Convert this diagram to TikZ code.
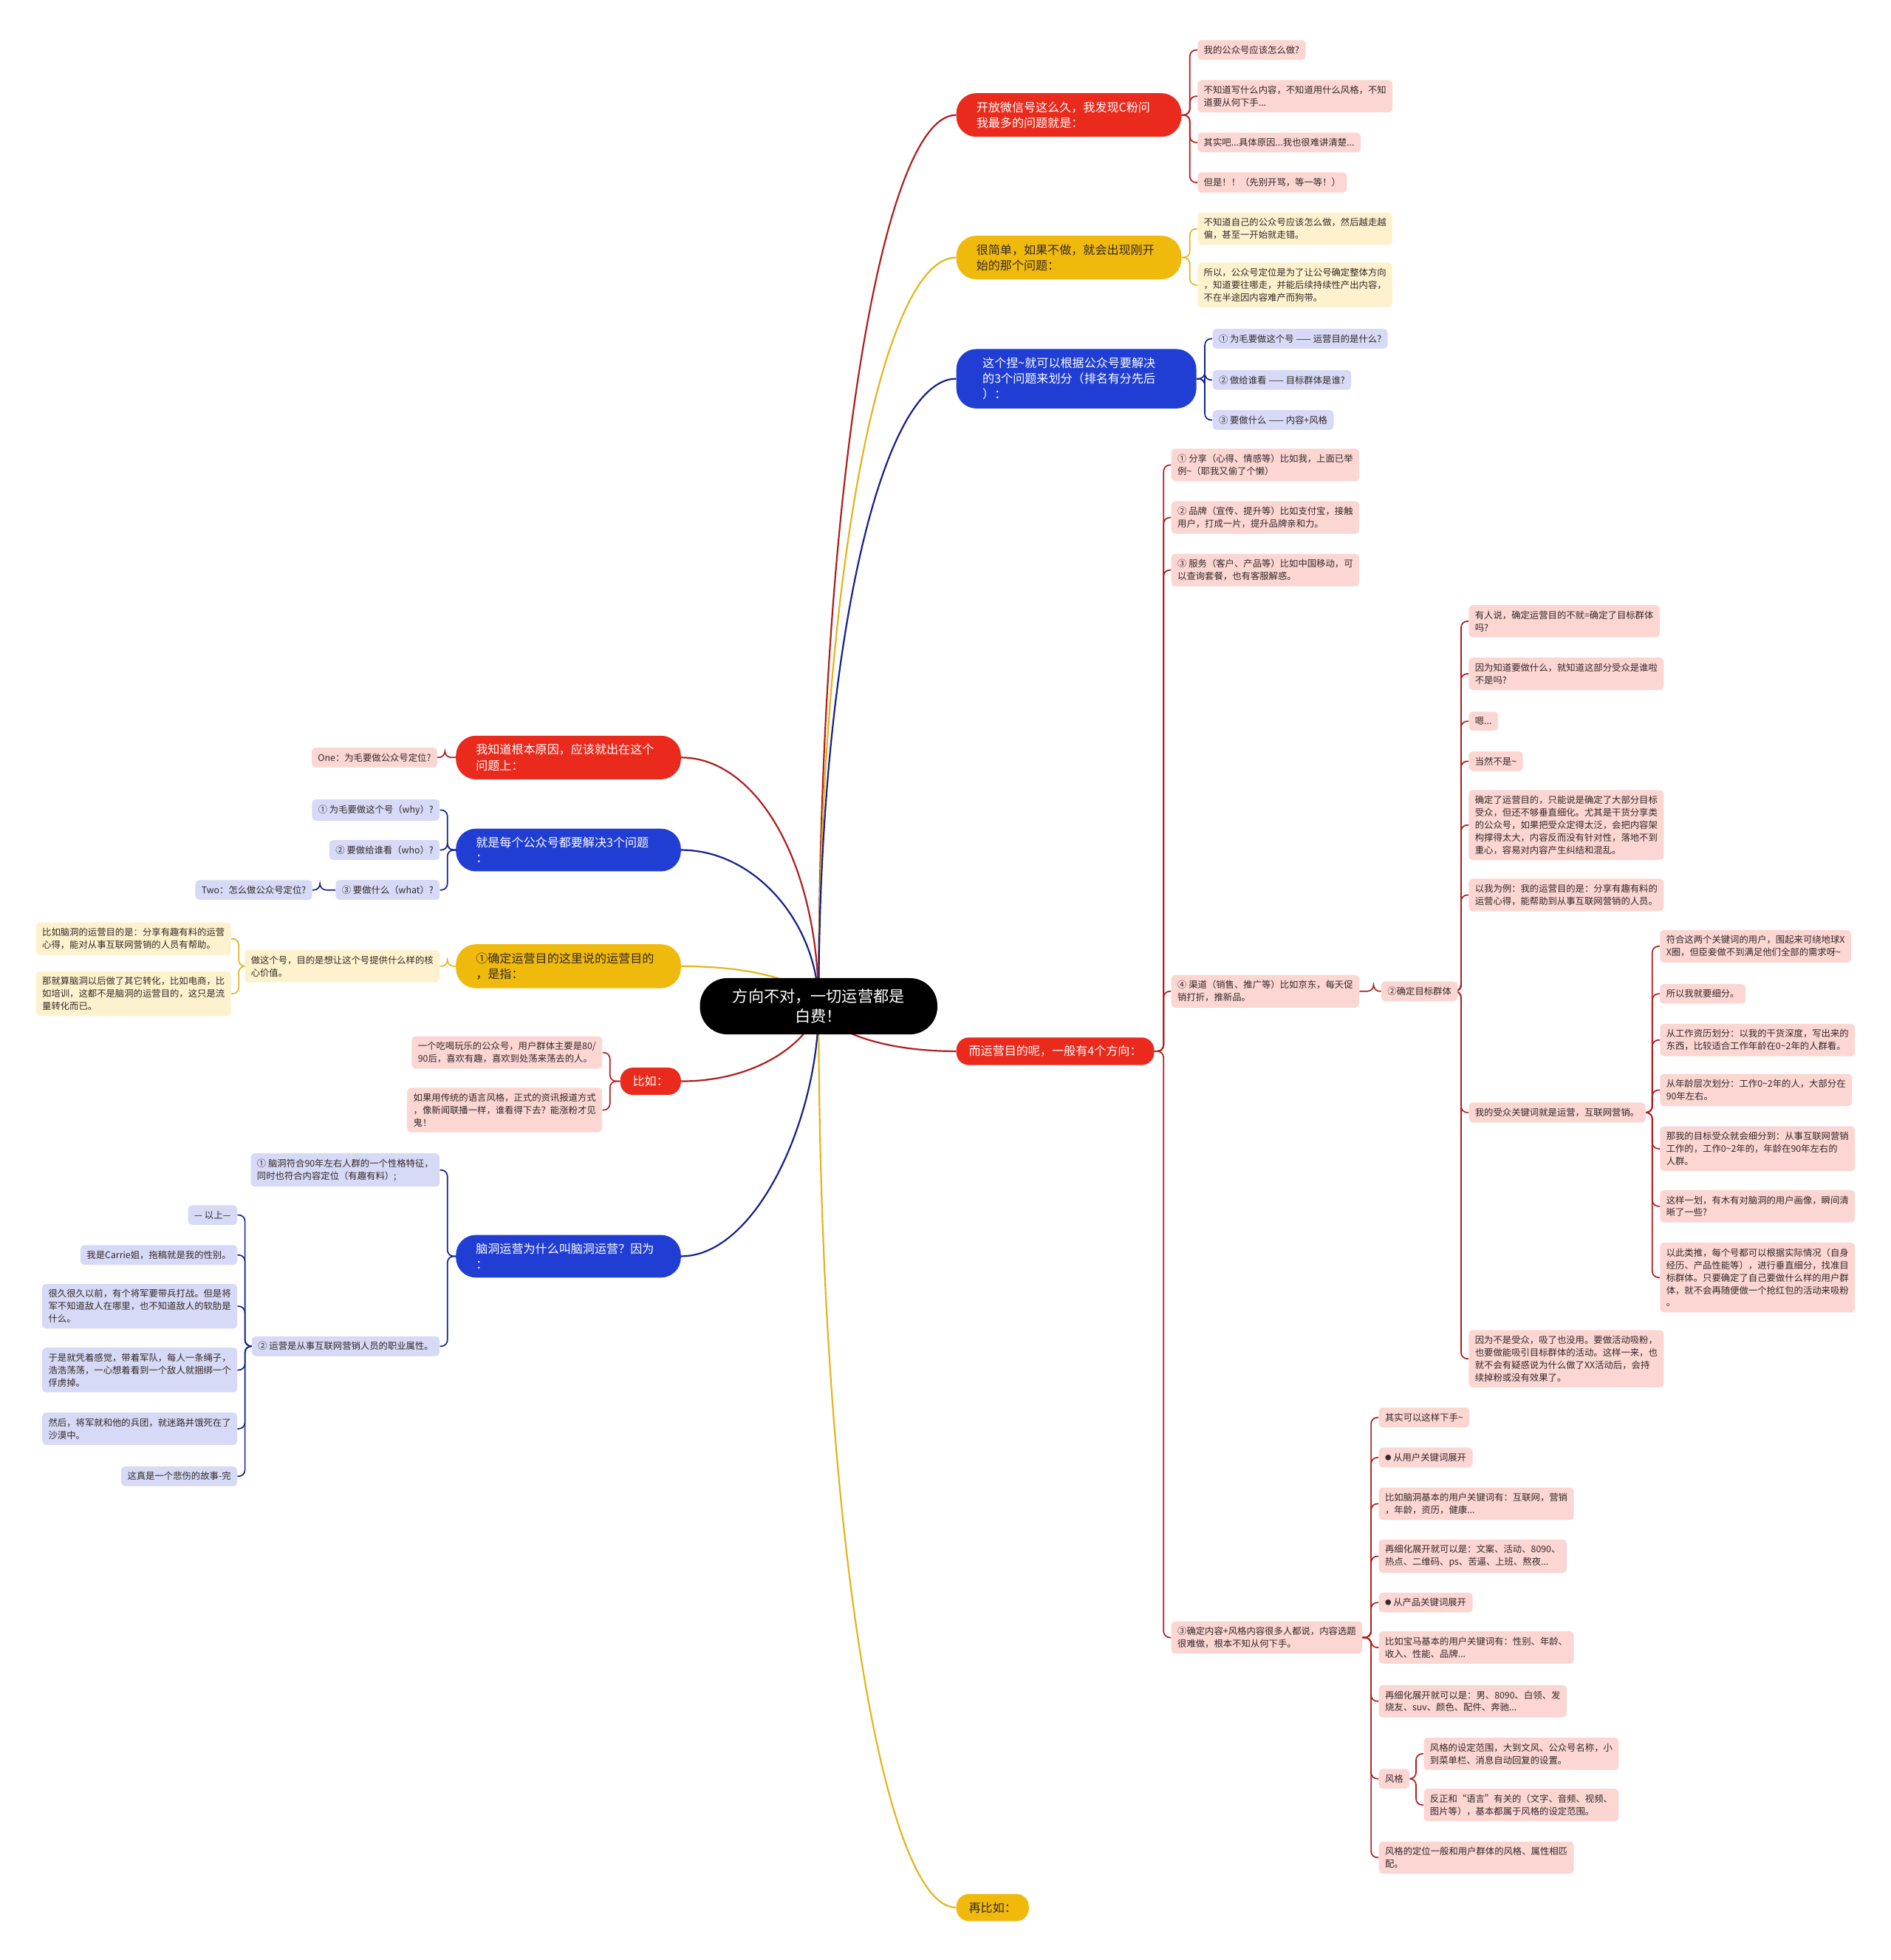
\documentclass[tikz,border=0pt]{standalone}
\usepackage{fontspec}
\setmainfont{Noto Sans CJK SC}
\usetikzlibrary{backgrounds}
\definecolor{cred}{RGB}{233,42,28}
\definecolor{cyel}{RGB}{240,186,12}
\definecolor{cblu}{RGB}{32,62,212}
\definecolor{lred}{RGB}{251,214,211}
\definecolor{lyel}{RGB}{254,242,206}
\definecolor{lblu}{RGB}{214,218,246}
\definecolor{ered}{RGB}{176,30,30}
\definecolor{eyel}{RGB}{228,180,30}
\definecolor{eblu}{RGB}{20,34,140}
\definecolor{txt}{RGB}{51,40,40}
\newcommand\tld{\char"7E\relax}
\newcommand\bul{\raisebox{0.12em}{\fontsize{5}{5}\selectfont ●}}
\newcommand\linkR[3]{\draw[lk,#1] (#2.east) -| ([xshift=-6pt]#3.west) -- (#3.west);}
\newcommand\linkL[3]{\draw[lk,#1] (#2.west) -| ([xshift=6pt]#3.east) -- (#3.east);}
\begin{document}
\begin{tikzpicture}[x=1pt,y=-1pt,
  leaf/.style={font=\fontsize{7.3}{10}\selectfont, inner xsep=5pt, inner ysep=4.5pt, rounded corners=3pt, align=left, text=txt},
  lr/.style={leaf, fill=lred}, ly/.style={leaf, fill=lyel}, lb/.style={leaf, fill=lblu},
  mainb/.style={font=\fontsize{9.5}{12.5}\selectfont, inner xsep=16pt, inner ysep=6.8pt, rounded corners=16pt, align=left, text width=148pt},
  smallb/.style={font=\fontsize{9.5}{12.5}\selectfont, inner xsep=10pt, inner ysep=6.5pt, rounded corners=10pt},
  lk/.style={line width=1pt, rounded corners=5pt},
  mk/.style={line width=1.3pt}]
\useasboundingbox (0,0) rectangle (1513,1568);

% root
\node[fill=black, text=white, rounded corners=22pt, minimum width=190pt, minimum height=45pt, align=center, font=\fontsize{12.5}{16}\selectfont] (root) at (655,805) {方向不对，一切运营都是\\白费！};

% ---------- right branches ----------
\node[mainb, fill=cred, text=white, anchor=west] (R1) at (765,92) {开放微信号这么久，我发现C粉问\\我最多的问题就是：};
\node[lr, anchor=west] (r1a) at (958,40) {我的公众号应该怎么做?};
\node[lr, anchor=west] (r1b) at (958,77) {不知道写什么内容，不知道用什么风格，不知\\道要从何下手...};
\node[lr, anchor=west] (r1c) at (958,114) {其实吧...具体原因...我也很难讲清楚...};
\node[lr, anchor=west] (r1d) at (958,146) {但是！！（先别开骂，等一等！）};

\node[mainb, fill=cyel, text=txt, anchor=west] (R2) at (765,206) {很简单，如果不做，就会出现刚开\\始的那个问题：};
\node[ly, anchor=west] (r2a) at (958,183) {不知道自己的公众号应该怎么做，然后越走越\\偏，甚至一开始就走错。};
\node[ly, anchor=west] (r2b) at (958,228) {所以，公众号定位是为了让公号确定整体方向\\，知道要往哪走，并能后续持续性产出内容，\\不在半途因内容难产而狗带。};

\node[mainb, fill=cblu, text=white, anchor=west, text width=150pt, inner xsep=21pt] (R3) at (765,303) {这个捏\tld{}就可以根据公众号要解决\\的3个问题来划分（排名有分先后\\）：};
\node[lb, anchor=west] (r3a) at (970,271) {①\ 为毛要做这个号 —— 运营目的是什么?};
\node[lb, anchor=west] (r3b) at (970,304) {②\ 做给谁看 —— 目标群体是谁?};
\node[lb, anchor=west] (r3c) at (970,336) {③\ 要做什么 —— 内容+风格};

\node[smallb, fill=cred, text=white, anchor=west] (R4) at (765,841) {而运营目的呢，一般有4个方向：};
\node[lr, anchor=west] (r4a) at (937,372) {①\ 分享（心得、情感等）比如我，上面已举\\例\tld{}（耶我又偷了个懒）};
\node[lr, anchor=west] (r4b) at (937,414) {②\ 品牌（宣传、提升等）比如支付宝，接触\\用户，打成一片，提升品牌亲和力。};
\node[lr, anchor=west] (r4c) at (937,456) {③\ 服务（客户、产品等）比如中国移动，可\\以查询套餐，也有客服解惑。};
\node[lr, anchor=west] (r4d) at (937,793) {④\ 渠道（销售、推广等）比如京东，每天促\\销打折，推新品。};
\node[lr, anchor=west] (r4e) at (937,1310) {③确定内容+风格内容很多人都说，内容选题\\很难做，根本不知从何下手。};

\node[lr, anchor=west] (t2) at (1105,793) {②确定目标群体};
\node[lr, anchor=west] (t2a) at (1175,497) {有人说，确定运营目的不就=确定了目标群体\\吗?};
\node[lr, anchor=west] (t2b) at (1175,539) {因为知道要做什么，就知道这部分受众是谁啦\\不是吗?};
\node[lr, anchor=west] (t2c) at (1175,577) {嗯...};
\node[lr, anchor=west] (t2d) at (1175,609) {当然不是\tld};
\node[lr, anchor=west] (t2e) at (1175,660) {确定了运营目的，只能说是确定了大部分目标\\受众，但还不够垂直细化。尤其是干货分享类\\的公众号，如果把受众定得太泛，会把内容架\\构撑得太大，内容反而没有针对性，落地不到\\重心，容易对内容产生纠结和混乱。};
\node[lr, anchor=west] (t2f) at (1175,716) {以我为例：我的运营目的是：分享有趣有料的\\运营心得，能帮助到从事互联网营销的人员。};
\node[lr, anchor=west] (t2g) at (1175,890) {我的受众关键词就是运营，互联网营销。};
\node[lr, anchor=west] (t2h) at (1175,1087) {因为不是受众，吸了也没用。要做活动吸粉，\\也要做能吸引目标群体的活动。这样一来，也\\就不会有疑惑说为什么做了XX活动后，会持\\续掉粉或没有效果了。};

\node[lr, anchor=west] (u1) at (1328,757) {符合这两个关键词的用户，围起来可绕地球X\\X圈，但臣妾做不到满足他们全部的需求呀\tld};
\node[lr, anchor=west] (u2) at (1328,795) {所以我就要细分。};
\node[lr, anchor=west] (u3) at (1328,832) {从工作资历划分：以我的干货深度，写出来的\\东西，比较适合工作年龄在0\tld{}2年的人群看。};
\node[lr, anchor=west] (u4) at (1328,872) {从年龄层次划分：工作0\tld{}2年的人，大部分在\\90年左右。};
\node[lr, anchor=west] (u5) at (1328,919) {那我的目标受众就会细分到：从事互联网营销\\工作的，工作0\tld{}2年的，年龄在90年左右的\\人群。};
\node[lr, anchor=west] (u6) at (1328,965) {这样一划，有木有对脑洞的用户画像，瞬间清\\晰了一些?};
\node[lr, anchor=west] (u7) at (1328,1022) {以此类推，每个号都可以根据实际情况（自身\\经历、产品性能等），进行垂直细分，找准目\\标群体。只要确定了自己要做什么样的用户群\\体，就不会再随便做一个抢红包的活动来吸粉\\。};

\node[lr, anchor=west] (v1) at (1103,1134) {其实可以这样下手\tld};
\node[lr, anchor=west] (v2) at (1103,1166) {\bul\ 从用户关键词展开};
\node[lr, anchor=west] (v3) at (1103,1203) {比如脑洞基本的用户关键词有：互联网，营销\\，年龄，资历，健康...};
\node[lr, anchor=west] (v4) at (1103,1245) {再细化展开就可以是：文案、活动、8090、\\热点、二维码、ps、苦逼、上班、熬夜...};
\node[lr, anchor=west] (v5) at (1103,1282) {\bul\ 从产品关键词展开};
\node[lr, anchor=west] (v6) at (1103,1318) {比如宝马基本的用户关键词有：性别、年龄、\\收入、性能、品牌...};
\node[lr, anchor=west] (v7) at (1103,1361) {再细化展开就可以是：男、8090、白领、发\\烧友、suv、颜色、配件、奔驰...};
\node[lr, anchor=west] (v8) at (1103,1423) {风格};
\node[lr, anchor=west] (v9) at (1103,1486) {风格的定位一般和用户群体的风格、属性相匹\\配。};
\node[lr, anchor=west] (w1) at (1139,1403) {风格的设定范围，大到文风、公众号名称，小\\到菜单栏、消息自动回复的设置。};
\node[lr, anchor=west] (w2) at (1139,1444) {反正和“语言”有关的（文字、音频、视频、\\图片等），基本都属于风格的设定范围。};

\node[smallb, fill=cyel, text=txt, anchor=west] (R5) at (765,1526) {再比如：};

% ---------- left branches ----------
\node[mainb, fill=cred, text=white, anchor=east] (L1) at (545,606) {我知道根本原因，应该就出在这个\\问题上：};
\node[lr, anchor=east] (l1a) at (350,606) {One：为毛要做公众号定位?};

\node[mainb, fill=cblu, text=white, anchor=east] (L2) at (545,680) {就是每个公众号都要解决3个问题\\：};
\node[lb, anchor=east] (l2a) at (352,648) {①\ 为毛要做这个号（why）?};
\node[lb, anchor=east] (l2b) at (352,680) {②\ 要做给谁看（who）?};
\node[lb, anchor=east] (l2c) at (352,712) {③\ 要做什么（what）?};
\node[lb, anchor=east] (l2d) at (250,712) {Two：怎么做公众号定位?};

\node[mainb, fill=cyel, text=txt, anchor=east] (L3) at (545,773) {①确定运营目的这里说的运营目的\\，是指：};
\node[ly, anchor=east] (l3a) at (352,773) {做这个号，目的是想让这个号提供什么样的核\\心价值。};
\node[ly, anchor=east] (l3b) at (185,751) {比如脑洞的运营目的是：分享有趣有料的运营\\心得，能对从事互联网营销的人员有帮助。};
\node[ly, anchor=east] (l3c) at (185,795) {那就算脑洞以后做了其它转化，比如电商，比\\如培训，这都不是脑洞的运营目的，这只是流\\量转化而已。};

\node[smallb, fill=cred, text=white, anchor=east] (L4) at (545,865) {比如：};
\node[lr, anchor=east] (l4a) at (482,842) {一个吃喝玩乐的公众号，用户群体主要是80/\\90后，喜欢有趣，喜欢到处荡来荡去的人。};
\node[lr, anchor=east] (l4b) at (482,888) {如果用传统的语言风格，正式的资讯报道方式\\，像新闻联播一样，谁看得下去？能涨粉才见\\鬼！};

\node[mainb, fill=cblu, text=white, anchor=east] (L5) at (545,1005) {脑洞运营为什么叫脑洞运营？因为\\：};
\node[lb, anchor=east] (l5a) at (352,936) {①\ 脑洞符合90年左右人群的一个性格特征，\\同时也符合内容定位（有趣有料）;};
\node[lb, anchor=east] (l5b) at (352,1077) {②\ 运营是从事互联网营销人员的职业属性。};
\node[lb, anchor=east] (m1) at (190,972) {— 以上—};
\node[lb, anchor=east] (m2) at (190,1004) {我是Carrie姐，拖稿就是我的性别。};
\node[lb, anchor=east] (m3) at (190,1045) {很久很久以前，有个将军要带兵打战。但是将\\军不知道敌人在哪里，也不知道敌人的软肋是\\什么。};
\node[lb, anchor=east] (m4) at (190,1096) {于是就凭着感觉，带着军队，每人一条绳子，\\浩浩荡荡，一心想着看到一个敌人就捆绑一个\\俘虏掉。};
\node[lb, anchor=east] (m5) at (190,1143) {然后，将军就和他的兵团，就迷路并饿死在了\\沙漠中。};
\node[lb, anchor=east] (m6) at (190,1181) {这真是一个悲伤的故事-完};

% ---------- connectors ----------
\begin{scope}[on background layer]
\draw[mk, ered] (root.center) .. controls (655,400) and (705,92) .. (R1.west);
\draw[mk, eyel] (root.center) .. controls (655,465) and (705,206) .. (R2.west);
\draw[mk, eblu] (root.center) .. controls (655,520) and (705,303) .. (R3.west);
\draw[mk, ered] (root.center) .. controls (660,822) and (700,841) .. (R4.west);
\draw[mk, eyel] (root.center) .. controls (655,1210) and (705,1526) .. (R5.west);
\draw[mk, ered] (root.center) .. controls (655,690) and (605,606) .. (L1.east);
\draw[mk, eblu] (root.center) .. controls (655,740) and (605,680) .. (L2.east);
\draw[mk, eyel] (root.center) .. controls (650,788) and (610,773) .. (L3.east);
\draw[mk, ered] (root.center) .. controls (650,830) and (610,865) .. (L4.east);
\draw[mk, eblu] (root.center) .. controls (655,895) and (605,1005) .. (L5.east);

\foreach \c in {r1a,r1b,r1c,r1d} {\linkR{ered}{R1}{\c}}
\foreach \c in {r2a,r2b} {\linkR{eyel}{R2}{\c}}
\foreach \c in {r3a,r3b,r3c} {\linkR{eblu}{R3}{\c}}
\foreach \c in {r4a,r4b,r4c,r4d,r4e} {\linkR{ered}{R4}{\c}}
\linkR{ered}{r4d}{t2}
\foreach \c in {t2a,t2b,t2c,t2d,t2e,t2f,t2g,t2h} {\linkR{ered}{t2}{\c}}
\foreach \c in {u1,u2,u3,u4,u5,u6,u7} {\linkR{ered}{t2g}{\c}}
\foreach \c in {v1,v2,v3,v4,v5,v6,v7,v8,v9} {\linkR{ered}{r4e}{\c}}
\foreach \c in {w1,w2} {\linkR{ered}{v8}{\c}}

\linkL{ered}{L1}{l1a}
\foreach \c in {l2a,l2b,l2c} {\linkL{eblu}{L2}{\c}}
\linkL{eblu}{l2c}{l2d}
\linkL{eyel}{L3}{l3a}
\foreach \c in {l3b,l3c} {\linkL{eyel}{l3a}{\c}}
\foreach \c in {l4a,l4b} {\linkL{ered}{L4}{\c}}
\foreach \c in {l5a,l5b} {\linkL{eblu}{L5}{\c}}
\foreach \c in {m1,m2,m3,m4,m5,m6} {\linkL{eblu}{l5b}{\c}}
\end{scope}
\end{tikzpicture}
\end{document}
